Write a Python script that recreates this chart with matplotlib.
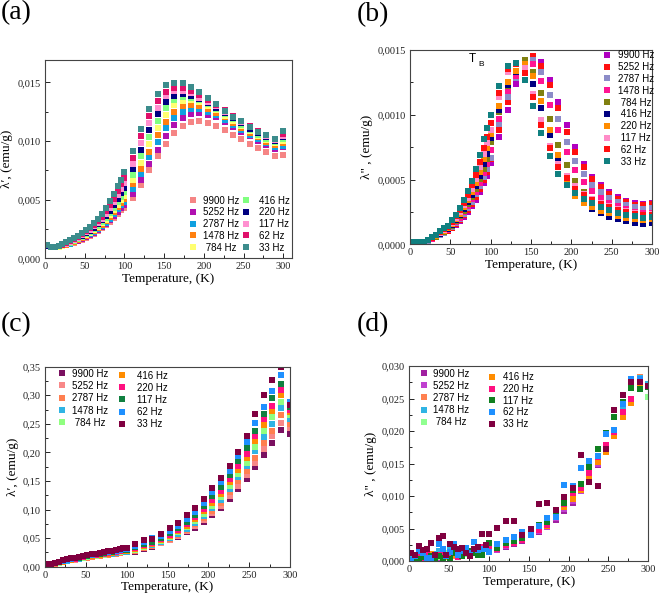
import matplotlib
matplotlib.use('Agg')
import matplotlib.pyplot as plt
from matplotlib.ticker import FuncFormatter, MultipleLocator
from matplotlib.legend import Legend

W, H, DPI = 661, 597, 100

# ---------------- data ----------------
T_low = [2, 7, 12, 17, 22, 27, 32, 37, 42, 47, 52, 57, 62, 67, 72, 77, 82, 87, 92, 96]
T_high = [100, 110.5, 121, 131.5, 142, 152.5, 163, 173.5, 184, 194.5,
          205, 215.5, 226, 236.5, 247, 257.5, 268, 278.5, 289, 299.5]
temperature = T_low + T_high

freq_labels = ['9900 Hz', '5252 Hz', '2787 Hz', '1478 Hz', ' 784 Hz',
               '416 Hz', '220 Hz', '117 Hz', '62 Hz', '33 Hz']
freq_labels_b = ['9900 Hz', '5252 Hz', '2787 Hz', '1478 Hz', ' 784 Hz',
                 ' 416 Hz', ' 220 Hz', ' 117 Hz', ' 62 Hz', ' 33 Hz']

# panel (a): lambda' in units of 1e-3 emu/g
a_scale = 1e-3
a_9900 = [1.05, 0.93, 0.93, 0.96, 1.03, 1.12, 1.22, 1.33, 1.46, 1.60, 1.75, 1.92, 2.11, 2.32, 2.55, 2.81, 3.10, 3.43, 3.80, 4.10,
          4.30, 5.13, 6.24, 7.49, 8.68, 9.77, 10.68, 11.28, 11.65, 11.71, 11.55, 11.31, 10.97, 10.54, 10.14, 9.77, 9.37, 9.03, 8.74, 8.83]
a_5252 = [1.06, 0.94, 0.93, 0.97, 1.04, 1.13, 1.24, 1.36, 1.50, 1.65, 1.81, 1.99, 2.19, 2.41, 2.65, 2.92, 3.23, 3.58, 3.97, 4.30,
          4.55, 5.50, 6.70, 8.03, 9.26, 10.45, 11.39, 11.97, 12.33, 12.40, 12.25, 12.00, 11.60, 11.20, 10.80, 10.40, 10.00, 9.65, 9.35, 9.45]
a_2787 = [1.06, 0.94, 0.94, 0.98, 1.06, 1.15, 1.26, 1.39, 1.53, 1.69, 1.86, 2.05, 2.26, 2.49, 2.75, 3.04, 3.37, 3.74, 4.16, 4.52,
          4.80, 5.90, 7.20, 8.60, 9.90, 11.10, 11.95, 12.50, 12.75, 12.75, 12.50, 12.20, 11.80, 11.40, 10.95, 10.55, 10.15, 9.80, 9.50, 9.60]
a_1478 = [1.07, 0.95, 0.94, 0.99, 1.07, 1.17, 1.29, 1.42, 1.57, 1.74, 1.92, 2.12, 2.34, 2.58, 2.85, 3.16, 3.51, 3.91, 4.36, 4.75,
          5.05, 6.30, 7.65, 9.10, 10.50, 11.65, 12.50, 12.95, 13.10, 13.00, 12.75, 12.40, 12.00, 11.55, 11.10, 10.70, 10.30, 9.95, 9.65, 9.80]
a_784 = [1.07, 0.95, 0.95, 1.00, 1.09, 1.19, 1.31, 1.45, 1.61, 1.79, 1.98, 2.19, 2.42, 2.68, 2.97, 3.30, 3.67, 4.10, 4.58, 5.00,
         5.35, 6.70, 8.15, 9.70, 11.10, 12.25, 13.05, 13.40, 13.45, 13.30, 13.00, 12.60, 12.15, 11.70, 11.25, 10.85, 10.45, 10.10, 9.80, 10.00]
a_416 = [1.08, 0.96, 0.95, 1.01, 1.10, 1.21, 1.34, 1.49, 1.66, 1.85, 2.05, 2.27, 2.51, 2.78, 3.09, 3.44, 3.84, 4.30, 4.82, 5.25,
         5.65, 7.10, 8.70, 10.35, 11.70, 12.80, 13.50, 13.75, 13.70, 13.50, 13.15, 12.75, 12.30, 11.85, 11.40, 10.95, 10.55, 10.20, 9.90, 10.15]
a_220 = [1.09, 0.96, 0.96, 1.02, 1.11, 1.23, 1.37, 1.53, 1.71, 1.91, 2.12, 2.35, 2.61, 2.90, 3.23, 3.60, 4.03, 4.52, 5.08, 5.55,
         6.00, 7.65, 9.25, 10.95, 12.30, 13.30, 13.85, 14.00, 13.85, 13.55, 13.20, 12.85, 12.40, 11.95, 11.50, 11.05, 10.65, 10.30, 10.00, 10.30]
a_117 = [1.10, 0.97, 0.97, 1.03, 1.13, 1.26, 1.41, 1.58, 1.77, 1.98, 2.20, 2.45, 2.72, 3.02, 3.38, 3.78, 4.25, 4.78, 5.40, 5.90,
         6.40, 8.05, 9.80, 11.50, 12.80, 13.80, 14.25, 14.30, 14.05, 13.70, 13.35, 12.95, 12.50, 12.05, 11.60, 11.15, 10.75, 10.40, 10.05, 10.45]
a_62 = [1.12, 0.98, 0.98, 1.05, 1.16, 1.30, 1.46, 1.64, 1.84, 2.06, 2.30, 2.56, 2.85, 3.18, 3.56, 4.00, 4.50, 5.08, 5.75, 6.30,
        6.85, 8.55, 10.40, 12.10, 13.40, 14.20, 14.55, 14.55, 14.30, 13.95, 13.50, 13.05, 12.60, 12.15, 11.70, 11.30, 10.85, 10.50, 10.15, 10.60]
a_33 = [1.15, 1.00, 1.00, 1.08, 1.20, 1.35, 1.52, 1.72, 1.93, 2.17, 2.42, 2.70, 3.02, 3.38, 3.80, 4.28, 4.85, 5.50, 6.20, 6.70,
        7.32, 9.11, 11.03, 12.76, 13.96, 14.73, 14.96, 14.90, 14.60, 14.19, 13.64, 13.16, 12.59, 12.05, 11.68, 11.22, 10.79, 10.48, 10.17, 10.88]

# panel (b): lambda'' in units of 1e-4 emu/g
b_scale = 1e-4
b_9900 = [0.20, 0.15, 0.15, 0.20, 0.28, 0.40, 0.53, 0.68, 0.85, 1.03, 1.25, 1.50, 1.80, 2.13, 2.50, 2.95, 3.45, 4.05, 4.70, 5.30,
          6.3, 8.3, 10.4, 12.4, 13.8, 14.4, 14.1, 12.7, 11.0, 9.2, 7.5, 6.2, 5.2, 4.55, 4.0, 3.65, 3.35, 3.15, 3.1, 3.2]
b_5252 = [0.20, 0.15, 0.15, 0.20, 0.28, 0.41, 0.55, 0.70, 0.87, 1.05, 1.29, 1.56, 1.88, 2.24, 2.65, 3.12, 3.65, 4.27, 4.95, 5.55,
          6.6, 8.8, 11.0, 13.1, 13.9, 14.5, 13.8, 12.3, 10.5, 8.7, 7.15, 6.0, 5.05, 4.4, 3.85, 3.5, 3.25, 3.05, 3.0, 3.1]
b_2787 = [0.20, 0.15, 0.15, 0.20, 0.29, 0.42, 0.56, 0.73, 0.90, 1.08, 1.34, 1.63, 1.97, 2.35, 2.79, 3.29, 3.85, 4.50, 5.22, 5.85,
          6.7, 9.3, 11.4, 12.8, 14.0, 14.2, 13.3, 11.5, 9.7, 7.9, 6.45, 5.4, 4.6, 4.05, 3.6, 3.3, 3.05, 2.85, 2.7, 2.8]
b_1478 = [0.20, 0.15, 0.15, 0.20, 0.30, 0.44, 0.58, 0.76, 0.93, 1.12, 1.39, 1.70, 2.05, 2.46, 2.93, 3.46, 4.05, 4.75, 5.51, 6.20,
          7.3, 9.7, 11.8, 13.0, 14.0, 13.9, 12.6, 10.75, 8.8, 7.1, 5.75, 4.8, 4.1, 3.6, 3.2, 2.95, 2.7, 2.5, 2.4, 2.45]
b_784 = [0.20, 0.15, 0.15, 0.20, 0.30, 0.45, 0.60, 0.79, 0.97, 1.16, 1.45, 1.78, 2.15, 2.58, 3.08, 3.64, 4.27, 5.02, 5.83, 6.60,
         7.9, 10.2, 12.2, 13.3, 14.2, 13.3, 11.7, 9.7, 7.7, 6.1, 4.85, 4.0, 3.5, 3.1, 2.8, 2.55, 2.35, 2.2, 2.1, 2.15]
b_416 = [0.20, 0.15, 0.15, 0.20, 0.31, 0.47, 0.63, 0.82, 1.01, 1.21, 1.51, 1.86, 2.25, 2.71, 3.24, 3.84, 4.51, 5.31, 6.18, 7.00,
         8.2, 10.4, 12.3, 13.3, 13.7, 12.4, 10.5, 8.4, 6.4, 5.0, 3.9, 3.3, 2.7, 2.4, 2.1, 1.95, 1.8, 1.65, 1.55, 1.65]
b_220 = [0.20, 0.15, 0.15, 0.20, 0.32, 0.48, 0.65, 0.86, 1.05, 1.26, 1.58, 1.95, 2.36, 2.85, 3.41, 4.05, 4.77, 5.62, 6.55, 7.40,
         8.5, 10.7, 12.5, 13.4, 13.9, 13.0, 11.1, 8.8, 6.9, 5.0, 3.7, 3.2, 2.85, 2.6, 2.4, 2.2, 2.05, 1.95, 1.9, 1.95]
b_117 = [0.20, 0.15, 0.15, 0.20, 0.33, 0.50, 0.68, 0.90, 1.10, 1.31, 1.65, 2.05, 2.48, 3.00, 3.60, 4.28, 5.05, 5.97, 6.97, 7.80,
         8.8, 11.4, 13.3, 14.0, 13.6, 11.6, 9.6, 7.6, 6.2, 5.3, 4.5, 3.9, 3.5, 3.2, 2.95, 2.75, 2.55, 2.4, 2.3, 2.35]
b_62 = [0.20, 0.15, 0.15, 0.20, 0.34, 0.52, 0.71, 0.94, 1.15, 1.37, 1.74, 2.16, 2.62, 3.18, 3.82, 4.55, 5.38, 6.38, 7.46, 8.30,
        9.4, 11.7, 13.5, 13.9, 13.2, 11.4, 9.2, 7.4, 6.0, 5.1, 4.3, 3.8, 3.4, 3.1, 2.85, 2.65, 2.5, 2.35, 2.25, 2.3]
b_33 = [0.20, 0.15, 0.15, 0.20, 0.35, 0.55, 0.75, 1.00, 1.22, 1.45, 1.85, 2.30, 2.80, 3.40, 4.10, 4.90, 5.80, 6.90, 8.10, 9.00,
        10.0, 12.2, 13.8, 14.0, 12.7, 10.7, 8.6, 6.85, 5.45, 4.6, 3.95, 3.5, 3.2, 2.9, 2.65, 2.45, 2.3, 2.15, 2.05, 2.1]

# panel (c): lambda' (emu/g)
c_9900 = [0.002, 0.004, 0.005, 0.007, 0.008, 0.010, 0.011, 0.012, 0.014, 0.015, 0.016, 0.017, 0.018, 0.019, 0.020, 0.021, 0.022, 0.023, 0.024, 0.025,
          0.025, 0.026, 0.031, 0.035, 0.041, 0.046, 0.052, 0.060, 0.068, 0.078, 0.090, 0.103, 0.118, 0.136, 0.153, 0.174, 0.196, 0.217, 0.240, 0.232]
c_5252 = [0.002, 0.004, 0.005, 0.007, 0.008, 0.010, 0.011, 0.012, 0.014, 0.015, 0.016, 0.017, 0.018, 0.019, 0.020, 0.021, 0.022, 0.023, 0.024, 0.025,
          0.025, 0.027, 0.032, 0.036, 0.042, 0.047, 0.054, 0.062, 0.071, 0.082, 0.094, 0.107, 0.124, 0.142, 0.160, 0.182, 0.206, 0.228, 0.252, 0.243]
c_2787 = [0.002, 0.004, 0.005, 0.007, 0.009, 0.010, 0.011, 0.013, 0.014, 0.015, 0.016, 0.017, 0.018, 0.019, 0.020, 0.021, 0.022, 0.023, 0.024, 0.026,
          0.026, 0.028, 0.033, 0.037, 0.043, 0.049, 0.056, 0.064, 0.074, 0.085, 0.098, 0.112, 0.130, 0.150, 0.168, 0.190, 0.216, 0.238, 0.265, 0.250]
c_1478 = [0.003, 0.004, 0.006, 0.007, 0.009, 0.010, 0.012, 0.013, 0.014, 0.016, 0.017, 0.018, 0.019, 0.020, 0.021, 0.022, 0.023, 0.024, 0.025, 0.026,
          0.026, 0.029, 0.034, 0.038, 0.044, 0.050, 0.058, 0.066, 0.077, 0.089, 0.103, 0.117, 0.136, 0.157, 0.176, 0.202, 0.227, 0.250, 0.277, 0.258]
c_784 = [0.003, 0.004, 0.006, 0.007, 0.009, 0.011, 0.012, 0.014, 0.015, 0.016, 0.017, 0.018, 0.019, 0.020, 0.021, 0.022, 0.024, 0.025, 0.026, 0.027,
         0.027, 0.030, 0.035, 0.039, 0.045, 0.052, 0.060, 0.069, 0.080, 0.093, 0.107, 0.122, 0.142, 0.163, 0.182, 0.210, 0.238, 0.262, 0.288, 0.265]
c_416 = [0.003, 0.004, 0.006, 0.008, 0.009, 0.011, 0.012, 0.014, 0.015, 0.017, 0.018, 0.019, 0.020, 0.021, 0.022, 0.023, 0.024, 0.026, 0.027, 0.028,
         0.028, 0.031, 0.036, 0.040, 0.046, 0.054, 0.062, 0.072, 0.083, 0.097, 0.112, 0.128, 0.148, 0.170, 0.190, 0.220, 0.248, 0.272, 0.300, 0.270]
c_220 = [0.003, 0.005, 0.006, 0.008, 0.010, 0.011, 0.013, 0.014, 0.016, 0.017, 0.018, 0.020, 0.021, 0.022, 0.023, 0.024, 0.025, 0.026, 0.028, 0.029,
         0.029, 0.032, 0.038, 0.041, 0.048, 0.056, 0.064, 0.075, 0.087, 0.101, 0.117, 0.133, 0.154, 0.177, 0.198, 0.228, 0.258, 0.282, 0.310, 0.275]
c_117 = [0.003, 0.005, 0.006, 0.008, 0.010, 0.012, 0.013, 0.015, 0.016, 0.018, 0.019, 0.020, 0.022, 0.023, 0.024, 0.025, 0.026, 0.027, 0.029, 0.030,
         0.030, 0.034, 0.040, 0.043, 0.050, 0.059, 0.067, 0.079, 0.091, 0.106, 0.123, 0.140, 0.161, 0.185, 0.207, 0.238, 0.268, 0.295, 0.320, 0.280]
c_62 = [0.004, 0.005, 0.007, 0.008, 0.010, 0.012, 0.014, 0.015, 0.017, 0.018, 0.020, 0.021, 0.022, 0.024, 0.025, 0.026, 0.027, 0.028, 0.030, 0.031,
        0.031, 0.036, 0.043, 0.050, 0.053, 0.062, 0.071, 0.084, 0.096, 0.111, 0.130, 0.148, 0.168, 0.194, 0.218, 0.252, 0.280, 0.307, 0.335, 0.288]
c_33 = [0.004, 0.005, 0.007, 0.009, 0.011, 0.013, 0.015, 0.016, 0.017, 0.019, 0.021, 0.022, 0.023, 0.024, 0.026, 0.027, 0.028, 0.029, 0.031, 0.032,
        0.033, 0.039, 0.046, 0.048, 0.058, 0.068, 0.076, 0.090, 0.102, 0.118, 0.138, 0.155, 0.176, 0.200, 0.228, 0.268, 0.300, 0.326, 0.350, 0.283]

# panel (d): lambda'' (emu/g)
d_9900 = [0.0001, 0.0003, 0.0005, 0.0002, 0.0006, 0.0004, 0.0008, 0.0006, 0.0009, 0.0011, 0.0007, 0.0010, 0.0012, 0.0010, 0.0014, 0.0013, 0.0015, 0.0017, 0.0019, 0.0020,
          0.0017, 0.0017, 0.0022, 0.0026, 0.0031, 0.0043, 0.0044, 0.0052, 0.0063, 0.0077, 0.0090, 0.0107, 0.0126, 0.0147, 0.0170, 0.0196, 0.0225, 0.0250, 0.0275, 0.0273]
d_5252 = [0.0000, 0.0004, 0.0002, 0.0007, 0.0004, 0.0009, 0.0006, 0.0005, 0.0010, 0.0008, 0.0011, 0.0009, 0.0013, 0.0011, 0.0012, 0.0014, 0.0016, 0.0018, 0.0020, 0.0022,
          0.0018, 0.0017, 0.0023, 0.0027, 0.0032, 0.0043, 0.0046, 0.0053, 0.0066, 0.0080, 0.0092, 0.0108, 0.0127, 0.0149, 0.0169, 0.0195, 0.0224, 0.0248, 0.0275, 0.0272]
d_2787 = [0.0001, 0.0002, 0.0006, 0.0003, 0.0009, 0.0006, 0.0004, 0.0010, 0.0007, 0.0011, 0.0009, 0.0008, 0.0012, 0.0010, 0.0013, 0.0012, 0.0015, 0.0017, 0.0019, 0.0021,
          0.0020, 0.0018, 0.0024, 0.0028, 0.0034, 0.0044, 0.0049, 0.0055, 0.0069, 0.0086, 0.0100, 0.0111, 0.0132, 0.0153, 0.0172, 0.0196, 0.0226, 0.0245, 0.0283, 0.0271]
d_1478 = [0.0003, 0.0009, 0.0005, 0.0013, 0.0007, 0.0004, 0.0011, 0.0015, 0.0008, 0.0012, 0.0017, 0.0010, 0.0014, 0.0009, 0.0016, 0.0013, 0.0019, 0.0016, 0.0020, 0.0022,
          0.0021, 0.0020, 0.0026, 0.0030, 0.0036, 0.0045, 0.0051, 0.0058, 0.0071, 0.0088, 0.0104, 0.0115, 0.0138, 0.0158, 0.0175, 0.0201, 0.0238, 0.0278, 0.0281, 0.0272]
d_784 = [0.0002, 0.0004, 0.0007, 0.0003, 0.0008, 0.0005, 0.0010, 0.0006, 0.0009, 0.0012, 0.0008, 0.0011, 0.0010, 0.0014, 0.0011, 0.0015, 0.0014, 0.0017, 0.0018, 0.0020,
         0.0020, 0.0019, 0.0025, 0.0029, 0.0034, 0.0044, 0.0049, 0.0055, 0.0069, 0.0085, 0.0100, 0.0112, 0.0130, 0.0155, 0.0170, 0.0196, 0.0225, 0.0250, 0.0278, 0.0253]
d_416 = [0.0001, 0.0006, 0.0002, 0.0009, 0.0005, 0.0011, 0.0003, 0.0008, 0.0014, 0.0006, 0.0012, 0.0009, 0.0015, 0.0010, 0.0013, 0.0016, 0.0018, 0.0015, 0.0020, 0.0021,
         0.0019, 0.0020, 0.0025, 0.0029, 0.0034, 0.0045, 0.0050, 0.0054, 0.0068, 0.0083, 0.0096, 0.0110, 0.0128, 0.0152, 0.0168, 0.0193, 0.0222, 0.0243, 0.0266, 0.0270]
d_220 = [0.0000, 0.0003, 0.0008, 0.0004, 0.0010, 0.0002, 0.0006, 0.0009, 0.0012, 0.0007, 0.0010, 0.0013, 0.0006, 0.0011, 0.0015, 0.0014, 0.0016, 0.0018, 0.0022, 0.0024,
         0.0022, 0.0018, 0.0024, 0.0028, 0.0033, 0.0043, 0.0048, 0.0055, 0.0070, 0.0087, 0.0105, 0.0113, 0.0135, 0.0160, 0.0178, 0.0198, 0.0230, 0.0250, 0.0275, 0.0268]
d_117 = [0.0001, 0.0005, 0.0003, 0.0006, 0.0002, 0.0008, 0.0004, 0.0007, 0.0005, 0.0009, 0.0003, 0.0012, 0.0011, 0.0007, 0.0013, 0.0015, 0.0012, 0.0009, 0.0010, 0.0020,
         0.0027, 0.0020, 0.0028, 0.0031, 0.0036, 0.0045, 0.0056, 0.0060, 0.0073, 0.0090, 0.0110, 0.0118, 0.0145, 0.0172, 0.0197, 0.0221, 0.0244, 0.0266, 0.0265, 0.0268]
d_62 = [0.0002, 0.0008, 0.0016, 0.0012, 0.0004, 0.0005, 0.0010, 0.0026, 0.0018, 0.0008, 0.0014, 0.0026, 0.0009, 0.0016, 0.0020, 0.0012, 0.0030, 0.0017, 0.0019, 0.0018,
        0.0014, 0.0026, 0.0032, 0.0037, 0.0045, 0.0040, 0.0054, 0.0066, 0.0068, 0.0117, 0.0115, 0.0143, 0.0154, 0.0162, 0.0196, 0.0202, 0.0242, 0.0280, 0.0280, 0.0270]
d_33 = [0.0012, 0.0010, 0.0023, 0.0017, 0.0019, 0.0027, 0.0009, 0.0035, 0.0038, 0.0010, 0.0026, 0.0022, 0.0019, 0.0020, 0.0012, 0.0008, 0.0019, 0.0022, 0.0041, 0.0025,
        0.0041, 0.0051, 0.0061, 0.0062, 0.0040, 0.0049, 0.0087, 0.0089, 0.0078, 0.0098, 0.0113, 0.0163, 0.0122, 0.0116, 0.0173, 0.0232, 0.0255, 0.0275, 0.0275, 0.0270]

a_colors = ['#f58585', '#b010b0', '#10a0e0', '#ff8010', '#ffff70',
            '#80ff80', '#000080', '#ff90d0', '#e0106a', '#3c8c8c']
b_colors = ['#b000c0', '#ff1010', '#8c8cc8', '#ff1493', '#808010',
            '#000080', '#ff8c00', '#ff8cc8', '#ff1010', '#108080']
c_colors = ['#7a1060', '#f88888', '#ff7f50', '#30b4e4', '#90ff80',
            '#ff8c00', '#ff1080', '#108040', '#1e90ff', '#800040']
d_colors = ['#a020a0', '#c040d0', '#ff8050', '#30b4e4', '#90ff90',
            '#ff8c00', '#ff1080', '#108020', '#1e90ff', '#800040']

# ---------------- figure ----------------
SERIF = ['Liberation Serif', 'DejaVu Serif']
SANS = ['Liberation Sans', 'DejaVu Sans']
plt.rcParams['font.family'] = SERIF

fig = plt.figure(figsize=(W / DPI, H / DPI), dpi=DPI)


def px_axes(left, top, right, bottom):
    return fig.add_axes([left / W, 1 - bottom / H, (right - left) / W, (bottom - top) / H])


def comma(dec):
    return FuncFormatter(lambda v, p: f"{v:.{dec}f}".replace('.', ','))


def style(ax, xmax, ymax, ystep, ydec, ylabel):
    ax.set_xlim(0, xmax)
    ax.set_ylim(0, ymax)
    ax.xaxis.set_major_locator(MultipleLocator(50))
    ax.xaxis.set_minor_locator(MultipleLocator(25))
    ax.yaxis.set_major_locator(MultipleLocator(ystep))
    ax.yaxis.set_minor_locator(MultipleLocator(ystep / 2))
    ax.yaxis.set_major_formatter(comma(ydec))
    ax.tick_params(which='both', direction='in', top=False, right=False,
                   labelsize=7.5, colors='#222222', width=0.7, pad=3)
    ax.tick_params(which='major', length=3.5)
    ax.tick_params(which='minor', length=2)
    for s in ax.spines.values():
        s.set_color('#444444')
        s.set_linewidth(0.8)
    ax.set_xlabel('Temperature, (K)', fontsize=9.5, labelpad=1)
    ax.set_ylabel(ylabel, fontsize=9.5, labelpad=3)


def draw(ax, series, colors, scale=1.0):
    lines = []
    for ys, col, lab in zip(series, colors, freq_labels):
        ln, = ax.plot(temperature, [v * scale for v in ys], ls='none', marker='s',
                      ms=3.8, mew=0, color=col, label=lab)
        lines.append(ln)
    return lines


def legend(ax, handles, labels, marker_x, row1_y, text_x, row_gap, fs=7):
    fs_px = fs * DPI / 72
    hl = 1.0
    handle_left = marker_x - hl * fs_px / 2
    htp = (text_x - (handle_left + hl * fs_px)) / fs_px
    text_h = fs_px * 0.98
    ls = (row_gap - text_h) / fs_px
    top = row1_y - text_h / 2
    leg = Legend(ax, handles, labels, loc='upper left',
                 bbox_to_anchor=(handle_left / W, 1 - top / H),
                 bbox_transform=fig.transFigure, frameon=False, borderpad=0,
                 borderaxespad=0, handlelength=hl, handletextpad=htp,
                 labelspacing=ls, numpoints=1,
                 prop={'family': SANS, 'size': fs})
    ax.add_artist(leg)
    return leg


# (a)
ax_a = px_axes(45, 60, 291.7, 258.3)
la = draw(ax_a, [a_9900, a_5252, a_2787, a_1478, a_784, a_416, a_220, a_117, a_62, a_33], a_colors, a_scale)
style(ax_a, 310.6, 0.0169, 0.005, 3, 'λ′, (emu/g)')
legend(ax_a, la[:5], freq_labels[:5], 192.7, 200.3, 203, 11.3)
legend(ax_a, la[5:], freq_labels[5:], 245.7, 200.3, 259, 11.3)

# (b)
ax_b = px_axes(410, 50, 652, 244.3)
lb = draw(ax_b, [b_9900, b_5252, b_2787, b_1478, b_784, b_416, b_220, b_117, b_62, b_33], b_colors, b_scale)
style(ax_b, 300, 0.0015, 0.0005, 4, 'λ" , (emu/g)')
legend(ax_b, lb, freq_labels_b, 607, 55, 617.7, 11.36)
ax_b.text(73, 0.001475, 'T', family=SANS, fontsize=8.5, va='top', ha='left')
ax_b.text(84.5, 0.00138, 'B', family=SANS, fontsize=6, va='baseline', ha='left')

# (c)
ax_c = px_axes(45, 366.7, 290, 566.7)
lc = draw(ax_c, [c_9900, c_5252, c_2787, c_1478, c_784, c_416, c_220, c_117, c_62, c_33], c_colors)
style(ax_c, 300, 0.35, 0.05, 2, 'λ′, (emu/g)')
legend(ax_c, lc[:5], freq_labels[:5], 61.7, 373.3, 71.7, 11.85)
legend(ax_c, lc[5:], freq_labels[5:], 121.7, 375.3, 136.7, 11.7)

# (d)
ax_d = px_axes(409, 366, 648.3, 561)
ld = draw(ax_d, [d_9900, d_5252, d_2787, d_1478, d_784, d_416, d_220, d_117, d_62, d_33], d_colors)
style(ax_d, 300, 0.030, 0.005, 3, 'λ" , (emu/g)')
legend(ax_d, ld[:5], freq_labels[:5], 424, 373.3, 433, 11.7)
legend(ax_d, ld[5:], freq_labels[5:], 492, 377, 503, 11.25)

# panel letters
for lab, x, y in [('(a)', 1, 0), ('(b)', 357, 2), ('(c)', 1, 312), ('(d)', 357, 312)]:
    fig.text(x / W, 1 - y / H, lab, fontsize=20, family=SERIF, va='top', ha='left')

fig.savefig('out.png', dpi=DPI)
